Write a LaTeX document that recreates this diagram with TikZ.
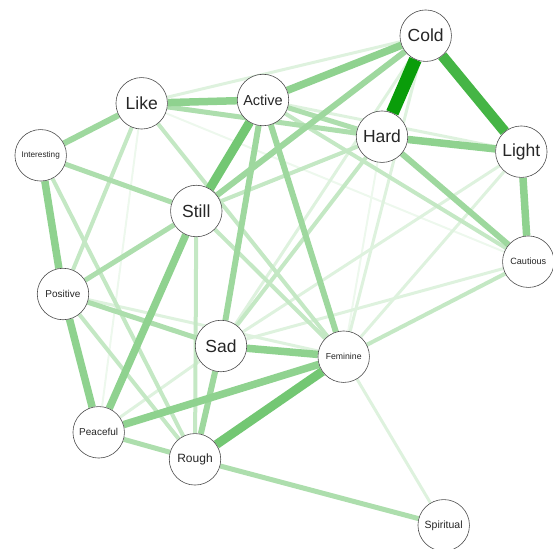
\documentclass[tikz,border=0pt]{standalone}
\usepackage{fontspec}
\setmainfont{Liberation Sans}
\usetikzlibrary{backgrounds}
\definecolor{tiegreen}{RGB}{0,153,0}

\begin{document}
\begin{tikzpicture}[x=1pt, y=-1pt,
	word/.style = {circle, draw=black!70, fill=white, line width=0.6pt, minimum size=51.5pt, inner sep=0pt, text=black!85},
	bigword/.style = {word, font=\fontsize{17.5}{18}\selectfont},
	smallword/.style = {word, font=\fontsize{#1}{#1}\selectfont},
	faintest/.style = {line width=2pt, draw=tiegreen!7},
	faint/.style = {line width=3pt, draw=tiegreen!13},
	pale/.style = {line width=4pt, draw=tiegreen!23},
	mid/.style = {line width=5pt, draw=tiegreen!32},
	firm/.style = {line width=6pt, draw=tiegreen!38},
	heavy/.style = {line width=7.5pt, draw=tiegreen!44},
	heavier/.style = {line width=9pt, draw=tiegreen!55},
	strongest/.style = {line width=10.5pt, draw=tiegreen!73}]
	\useasboundingbox (0,0) rectangle (553,548);

	\node[bigword] (cold) at (425.7,35.7) {Cold};
	\node[bigword] (like) at (141.7,103.3) {Like};
	\node[word, font=\fontsize{14.5}{15}\selectfont] (active) at (263,100) {Active};
	\node[bigword] (hard) at (382,136.7) {Hard};
	\node[bigword] (light) at (521.3,151.7) {Light};
	\node[smallword=8.2] (interesting) at (40.7,155.3) {Interesting};
	\node[bigword] (still) at (196.3,211) {Still};
	\node[smallword=9.1] (cautious) at (528.3,261.7) {Cautious};
	\node[smallword=10] (positive) at (63,294) {Positive};
	\node[bigword] (sad) at (221,346) {Sad};
	\node[smallword=8.7] (feminine) at (343.7,356.7) {Feminine};
	\node[smallword=10] (peaceful) at (98.7,432.3) {Peaceful};
	\node[smallword=12] (rough) at (195,459.3) {Rough};
	\node[smallword=10.5] (spiritual) at (443.7,525.3) {Spiritual};

	\begin{pgfonlayer}{background}
	% weakest ties first
	\path (like) edge[faintest] (peaceful)
	(like)     edge[faintest] (cautious)
	(hard)     edge[faintest] (feminine)
	(cold)     edge[faint] (like)
	(cold)     edge[faint] (sad)
	(cold)     edge[faint] (feminine)
	(peaceful) edge[faint] (sad)
	(feminine) edge[faint] (spiritual)
	(light)    edge[faint] (sad)
	(light)    edge[faint] (feminine)
	(cautious) edge[faint] (sad)
	(active)   edge[faint] (light)
	(positive) edge[faint] (feminine)
	(active)   edge[pale] (cautious)
	(like)     edge[pale] (positive)
	(like)     edge[pale] (feminine)
	(interesting) edge[pale] (rough)
	(still)    edge[pale] (rough)
	(still)    edge[pale] (feminine)
	(still)    edge[pale] (hard)
	(positive) edge[pale] (rough)
	(hard)     edge[pale] (sad)
	(feminine) edge[pale] (cautious)
	(rough)    edge[mid] (spiritual)
	(active)   edge[mid] (hard)
	(interesting) edge[mid] (still)
	(still)    edge[mid] (positive)
	(peaceful) edge[mid] (rough)
	(positive) edge[mid] (sad)
	(like)     edge[mid] (hard)
	(cold)     edge[firm] (still)
	(like)     edge[firm] (interesting)
	(active)   edge[firm] (sad)
	(active)   edge[firm] (feminine)
	(hard)     edge[firm] (cautious)
	(sad)      edge[firm] (rough)
	(interesting) edge[heavy] (positive)
	(positive) edge[heavy] (peaceful)
	(like)     edge[heavy] (active)
	(cold)     edge[heavy] (active)
	(sad)      edge[heavy] (feminine)
	(peaceful) edge[heavy] (feminine)
	(still)    edge[heavy] (peaceful)
	(hard)     edge[heavy] (light)
	(light)    edge[heavy] (cautious)
	(active)   edge[heavier] (still)
	(rough)    edge[heavier] (feminine)
	(cold)     edge[strongest] (light)
	(cold)     edge[line width=13pt, draw=tiegreen!96] (hard);
	\end{pgfonlayer}
\end{tikzpicture}
\end{document}
